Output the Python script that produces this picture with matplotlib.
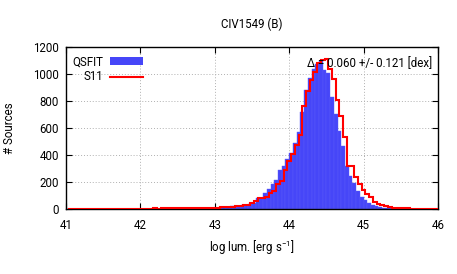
import numpy as np
import matplotlib
matplotlib.use('Agg')
import matplotlib.pyplot as plt
from matplotlib.patches import Rectangle
from matplotlib.lines import Line2D

plt.rcParams['font.family'] = ['Roboto', 'DejaVu Sans']
plt.rcParams['mathtext.default'] = 'regular'

# histogram bins, 0.05 dex wide
bin_edges = np.round(np.arange(41.0, 46.0001, 0.05), 3)
bin_centers = np.round(np.arange(41.025, 46.0251, 0.05), 3)   # gnuplot "steps" start at bin centres

qsfit_counts = [
    0, 0, 0, 0, 1, 0, 0, 1, 0, 1, 0, 1, 1, 0, 1, 1, 1, 1, 2, 1,
    1, 2, 1, 2, 2, 2, 3, 3, 2, 3, 4, 3, 4, 5, 5, 6, 6, 7, 8, 9,
    10, 12, 14, 17, 20, 22, 25, 28, 30, 34, 47, 78, 82, 117, 147, 187, 217, 292, 317, 372,
    412, 492, 567, 720, 885, 967, 1040, 1075, 1100, 1030, 1005, 830, 705, 580, 470, 317, 242, 190, 130, 92,
    67, 45, 30, 20, 14, 10, 7, 5, 4, 3, 2, 2, 1, 1, 1, 1, 0, 1, 0, 0,
]

s11_counts = [
    1, 1, 1, 1, 1, 1, 2, 1, 1, 2, 1, 2, 2, 1, 2, 2, 2, 3, 2, 3,
    3, 3, 3, 4, 3, 4, 4, 5, 5, 5, 6, 6, 7, 7, 8, 8, 9, 9, 10, 10,
    11, 12, 13, 15, 17, 20, 24, 28, 32, 42, 62, 80, 85, 92, 117, 130, 187, 205, 292, 355,
    410, 472, 545, 760, 871, 954, 1014, 1079, 1105, 1110, 1040, 960, 811, 691, 530, 317, 317, 240, 185, 142,
    112, 87, 55, 37, 28, 20, 15, 10, 8, 6, 5, 4, 3, 3, 2, 2, 2, 1, 1, 1,
]

title = 'CIV1549 (B)'
delta_text = '\u0394 = 0.060 +/- 0.121 [dex]'
fs = 8.3

fig = plt.figure(figsize=(4.57, 2.74), dpi=100)
ax = fig.add_axes([66 / 457, 1 - 209 / 274, (438 - 66) / 457, (209 - 47) / 274])

ax.bar(bin_edges[:-1], qsfit_counts, width=0.05, align='edge',
       color='#4646f8', edgecolor='#5c5cfa', linewidth=0.3, zorder=2)
ax.stairs(s11_counts, bin_centers, color='red', linewidth=1.5, zorder=3)

ax.set_xlim(41, 46)
ax.set_ylim(0, 1200)
ax.set_xticks(range(41, 47))
ax.set_yticks(range(0, 1201, 200))
ax.grid(True, color='#b0b0b0', linestyle=(0, (1, 2)), linewidth=0.7, zorder=0)
ax.set_axisbelow(True)
ax.tick_params(direction='in', top=True, right=True, length=4, width=0.8,
               labelsize=fs)
ax.tick_params(axis='x', pad=7)
ax.tick_params(axis='y', pad=5)
for s in ax.spines.values():
    s.set_linewidth(1.0)

fig.text(252 / 457, 1 - 24 / 274, title, ha='center', va='center', fontsize=fs)
fig.text(252 / 457, 1 - 248 / 274, 'log lum. [erg s$^{-1}$]', ha='center', va='center', fontsize=fs)
fig.text(10 / 457, 1 - 128 / 274, '# Sources', ha='center', va='center', rotation=90, fontsize=fs)

ax.text(0.984, 0.899, delta_text, transform=ax.transAxes, ha='right', va='center',
        fontsize=fs, zorder=5)

# legend drawn gnuplot-style: label right-aligned, sample on the right
ax.text(0.0995, 0.907, 'QSFIT', transform=ax.transAxes, ha='right', va='center', fontsize=fs)
ax.text(0.0995, 0.815, 'S11', transform=ax.transAxes, ha='right', va='center', fontsize=fs)
ax.add_patch(Rectangle((0.118, 0.887), 0.0887, 0.049, transform=ax.transAxes,
                       facecolor='#4646f8', edgecolor='none', zorder=5))
ax.add_line(Line2D([0.118, 0.2067], [0.817, 0.817], transform=ax.transAxes,
                   color='red', linewidth=1.5, zorder=5))

fig.savefig('out.png', dpi=100)
